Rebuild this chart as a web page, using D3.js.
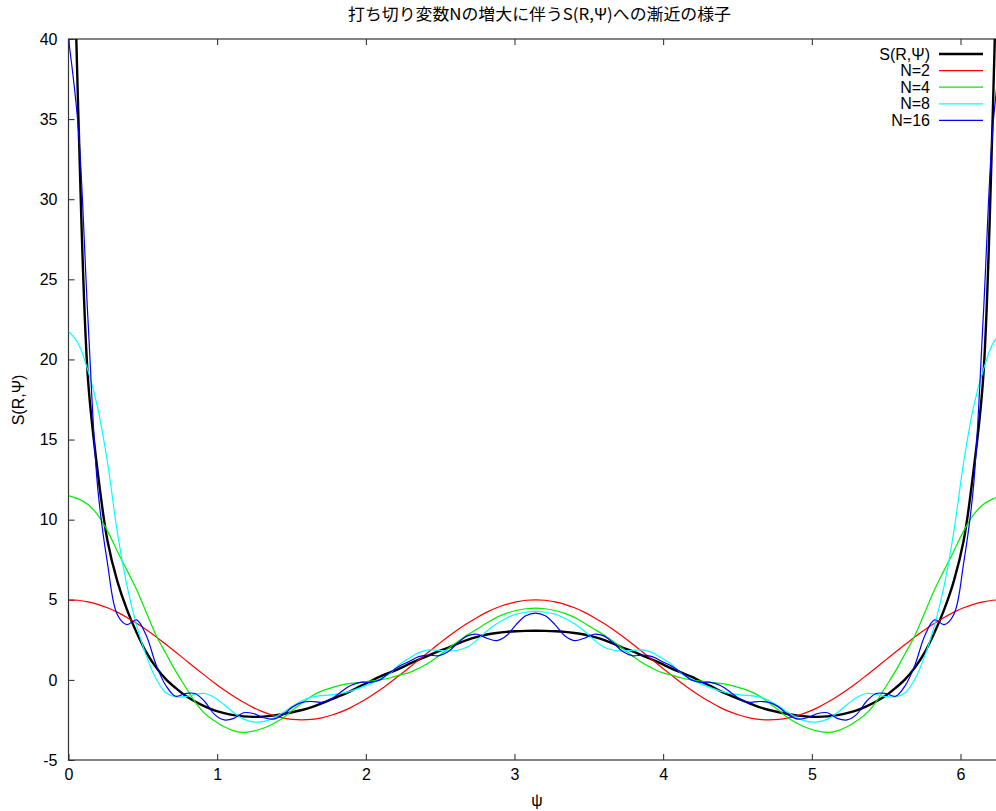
<!DOCTYPE html>
<html><head><meta charset="utf-8">
<script src="https://cdn.jsdelivr.net/npm/d3@7/dist/d3.min.js"></script>
<style>
html,body{margin:0;padding:0;background:#fff;overflow:hidden;}
svg{display:block;font-family:"Liberation Sans",Arial,Helvetica,sans-serif;}
</style></head>
<body>
<svg id="chart" width="996" height="811"></svg>
<script>
const titleText = "打ち切り変数Nの増大に伴うS(R,Ψ)への漸近の様子";
const xLabel = "ψ";
const yLabel = "S(R,Ψ)";
const xTicks = [0, 1, 2, 3, 4, 5, 6];
const yTicks = [-5, 0, 5, 10, 15, 20, 25, 30, 35, 40];
const seriesNames = ["S(R,Ψ)", "N=2", "N=4", "N=8", "N=16"];
const seriesColors = ["#000000", "#ff0000", "#00ee00", "#00ffff", "#0000ff"];

const psi = [0, 0.0654, 0.1309, 0.1963, 0.2618, 0.3272, 0.3927, 0.4581, 0.5236, 0.5890, 0.6545, 0.7199, 0.7854, 0.8508, 0.9163, 0.9817, 1.0472, 1.1126, 1.1781, 1.2435, 1.3090, 1.3744, 1.4399, 1.5053, 1.5708, 1.6362, 1.7017, 1.7671, 1.8326, 1.8980, 1.9635, 2.0289, 2.0944, 2.1598, 2.2253, 2.2907, 2.3562, 2.4216, 2.4871, 2.5525, 2.6180, 2.6834, 2.7489, 2.8143, 2.8798, 2.9452, 3.0107, 3.0761, 3.1416,
  3.2070, 3.2725, 3.3379, 3.4034, 3.4688, 3.5343, 3.5997, 3.6652, 3.7306, 3.7961, 3.8615, 3.9270, 3.9924, 4.0579, 4.1233, 4.1888, 4.2542, 4.3197, 4.3851, 4.4506, 4.5160, 4.5815, 4.6469, 4.7124, 4.7779, 4.8433, 4.9088, 4.9742, 5.0397, 5.1051, 5.1706, 5.2360, 5.3015, 5.3669, 5.4324, 5.4978, 5.5633, 5.6287, 5.6942, 5.7596, 5.8251, 5.8905, 5.9560, 6.0214, 6.0868, 6.1523, 6.2177, 6.2832];

const sExact = [60, 35.5, 18.8, 13.0, 8.7, 6.2, 4.4, 2.95, 1.72, 0.78, 0.05, -0.5, -0.98, -1.35, -1.65, -1.9, -2.07, -2.2, -2.28, -2.31, -2.29, -2.23, -2.13, -2.02, -1.88, -1.7, -1.47, -1.22, -0.97, -0.7, -0.38, -0.1, 0.2, 0.45, 0.7, 1.0, 1.27, 1.52, 1.78, 2.0, 2.27, 2.5, 2.68, 2.83, 2.93, 3.0, 3.04, 3.06, 3.07,
  3.06, 3.04, 3.0, 2.93, 2.83, 2.68, 2.5, 2.27, 2.0, 1.78, 1.52, 1.27, 1.0, 0.7, 0.45, 0.2, -0.1, -0.38, -0.7, -0.97, -1.22, -1.47, -1.7, -1.88, -2.02, -2.13, -2.23, -2.29, -2.31, -2.28, -2.2, -2.07, -1.9, -1.65, -1.35, -0.98, -0.5, 0.05, 0.78, 1.72, 2.95, 4.4, 6.2, 8.7, 13.0, 18.8, 35.5, 60];

const sN2 = [5.0, 4.97, 4.87, 4.71, 4.50, 4.23, 3.90, 3.53, 3.13, 2.69, 2.22, 1.74, 1.25, 0.76, 0.28, -0.19, -0.63, -1.03, -1.40, -1.73, -2.00, -2.21, -2.37, -2.47, -2.50, -2.47, -2.37, -2.21, -2.00, -1.73, -1.40, -1.03, -0.63, -0.19, 0.28, 0.76, 1.25, 1.74, 2.22, 2.69, 3.13, 3.53, 3.90, 4.23, 4.50, 4.71, 4.87, 4.97, 5.0,
  4.97, 4.87, 4.71, 4.50, 4.23, 3.90, 3.53, 3.13, 2.69, 2.22, 1.74, 1.25, 0.76, 0.28, -0.19, -0.63, -1.03, -1.40, -1.73, -2.00, -2.21, -2.37, -2.47, -2.50, -2.47, -2.37, -2.21, -2.00, -1.73, -1.40, -1.03, -0.63, -0.19, 0.28, 0.76, 1.25, 1.74, 2.22, 2.69, 3.13, 3.53, 3.90, 4.23, 4.50, 4.71, 4.87, 4.97, 5.0];

const sN4 = [11.5, 11.3, 10.95, 10.3, 9.3, 8.05, 6.85, 5.62, 4.2, 2.78, 1.66, 0.56, -0.41, -1.37, -2.09, -2.55, -2.93, -3.18, -3.28, -3.2, -3.02, -2.75, -2.4, -1.9, -1.45, -1.0, -0.7, -0.5, -0.33, -0.22, -0.15, -0.08, 0.0, 0.12, 0.3, 0.45, 0.73, 1.05, 1.48, 1.94, 2.39, 2.81, 3.18, 3.55, 3.9, 4.15, 4.33, 4.44, 4.48,
  4.44, 4.33, 4.15, 3.9, 3.55, 3.18, 2.81, 2.39, 1.94, 1.48, 1.05, 0.73, 0.45, 0.3, 0.12, 0.0, -0.08, -0.15, -0.22, -0.33, -0.5, -0.7, -1.0, -1.45, -1.9, -2.4, -2.75, -3.02, -3.2, -3.28, -3.18, -2.93, -2.55, -2.09, -1.37, -0.41, 0.56, 1.66, 2.78, 4.2, 5.62, 6.85, 8.05, 9.3, 10.3, 10.95, 11.3, 11.5];

const sN8 = [21.75, 21.0, 19.3, 17.0, 13.6, 9.3, 5.9, 3.4, 1.5, 0.07, -0.8, -1.05, -1.05, -0.9, -0.85, -1.1, -1.55, -2.05, -2.45, -2.62, -2.6, -2.4, -2.05, -1.65, -1.3, -1.08, -0.98, -0.93, -0.85, -0.7, -0.48, -0.25, 0.05, 0.4, 0.95, 1.35, 1.7, 1.87, 1.85, 1.8, 1.85, 2.05, 2.5, 3.05, 3.5, 3.85, 4.1, 4.22, 4.27,
  4.22, 4.1, 3.85, 3.5, 3.05, 2.5, 2.05, 1.85, 1.8, 1.85, 1.87, 1.7, 1.35, 0.95, 0.4, 0.05, -0.25, -0.48, -0.7, -0.85, -0.93, -0.98, -1.08, -1.3, -1.65, -2.05, -2.4, -2.6, -2.62, -2.45, -2.05, -1.55, -1.1, -0.85, -0.9, -1.05, -1.05, -0.8, 0.07, 1.5, 3.4, 5.9, 9.3, 13.6, 17.0, 19.3, 21.0, 21.75];

const sN16 = [40.0, 34.5, 22.5, 12.0, 7.3, 4.1, 3.45, 3.75, 2.75, 0.95, -0.35, -1.02, -0.85, -0.85, -1.35, -2.15, -2.5, -2.4, -2.05, -2.1, -2.35, -2.45, -2.2, -1.7, -1.4, -1.35, -1.4, -1.2, -0.75, -0.35, -0.15, -0.15, 0.0, 0.45, 0.85, 1.15, 1.45, 1.55, 1.5, 1.75, 2.3, 2.75, 2.85, 2.6, 2.45, 2.75, 3.45, 4.0, 4.17,
  4.0, 3.45, 2.75, 2.45, 2.6, 2.85, 2.75, 2.3, 1.75, 1.5, 1.55, 1.45, 1.15, 0.85, 0.45, 0.0, -0.15, -0.15, -0.35, -0.75, -1.2, -1.4, -1.35, -1.4, -1.7, -2.2, -2.45, -2.35, -2.1, -2.05, -2.4, -2.5, -2.15, -1.35, -0.85, -0.85, -1.02, -0.35, 0.95, 2.75, 3.75, 3.45, 4.1, 7.3, 12.0, 22.5, 34.5, 40.0];

const seriesValues = [sExact, sN2, sN4, sN8, sN16];
const seriesWidths = [2.4, 1.2, 1.2, 1.2, 1.2];

const svg = d3.select("#chart");
const L = 68.5, T = 39, R = 1002.6, B = 760;
const x = d3.scaleLinear().domain([0, 2 * Math.PI]).range([L, R]);
const y = d3.scaleLinear().domain([-5, 40]).range([B, T]);

svg.append("defs").append("clipPath").attr("id", "clip")
  .append("rect").attr("x", L).attr("y", T).attr("width", R - L).attr("height", B - T);

const fmt = d => String(d);
const gx = svg.append("g").attr("transform", `translate(0,${B})`)
  .call(d3.axisBottom(x).tickValues(xTicks).tickSize(-6).tickPadding(9).tickFormat(fmt));
const gxt = svg.append("g").attr("transform", `translate(0,${T})`)
  .call(d3.axisTop(x).tickValues(xTicks).tickSize(-6).tickFormat(""));
const gy = svg.append("g").attr("transform", `translate(${L},0)`)
  .call(d3.axisLeft(y).tickValues(yTicks).tickSize(-6).tickPadding(11).tickFormat(fmt));
const gyr = svg.append("g").attr("transform", `translate(${R},0)`)
  .call(d3.axisRight(y).tickValues(yTicks).tickSize(-6).tickFormat(""));
[gx, gxt, gy, gyr].forEach(g => {
  g.select(".domain").remove();
  g.selectAll(".tick line").attr("stroke", "#222").attr("stroke-width", 1);
  g.selectAll(".tick text").attr("font-size", 16).attr("fill", "#000")
    .attr("font-family", "'Liberation Sans', Arial, sans-serif");
});

svg.append("rect").attr("x", L).attr("y", T).attr("width", R - L).attr("height", B - T)
  .attr("fill", "none").attr("stroke", "#333").attr("stroke-width", 1.2);

const plot = svg.append("g").attr("clip-path", "url(#clip)");
const line = d3.line().curve(d3.curveCatmullRom.alpha(0.5));
seriesValues.forEach((vals, i) => {
  plot.append("path")
    .attr("d", line(psi.map((p, j) => [x(p), y(vals[j])])))
    .attr("fill", "none")
    .attr("stroke", seriesColors[i])
    .attr("stroke-width", seriesWidths[i])
    .attr("stroke-linejoin", "round");
});

const lg = svg.append("g");
seriesNames.forEach((name, i) => {
  const yy = 54 + i * 16.6;
  lg.append("text").attr("x", 930).attr("y", yy).attr("dy", "0.35em")
    .attr("text-anchor", "end").attr("font-size", 16).text(name);
  lg.append("line").attr("x1", 939).attr("x2", 983).attr("y1", yy).attr("y2", yy)
    .attr("stroke", seriesColors[i]).attr("stroke-width", seriesWidths[i]);
});

svg.append("text").attr("x", 539.5).attr("y", 20).attr("text-anchor", "middle")
  .attr("font-family", "'Noto Sans CJK JP', sans-serif").attr("font-size", 16)
  .attr("textLength", 383).attr("lengthAdjust", "spacingAndGlyphs")
  .text(titleText);
svg.append("text").attr("x", 537).attr("y", 806).attr("text-anchor", "middle")
  .attr("font-size", 16).text(xLabel);
svg.append("text").attr("transform", "translate(24,400) rotate(-90)")
  .attr("text-anchor", "middle").attr("font-size", 16).text(yLabel);
</script>
</body></html>
